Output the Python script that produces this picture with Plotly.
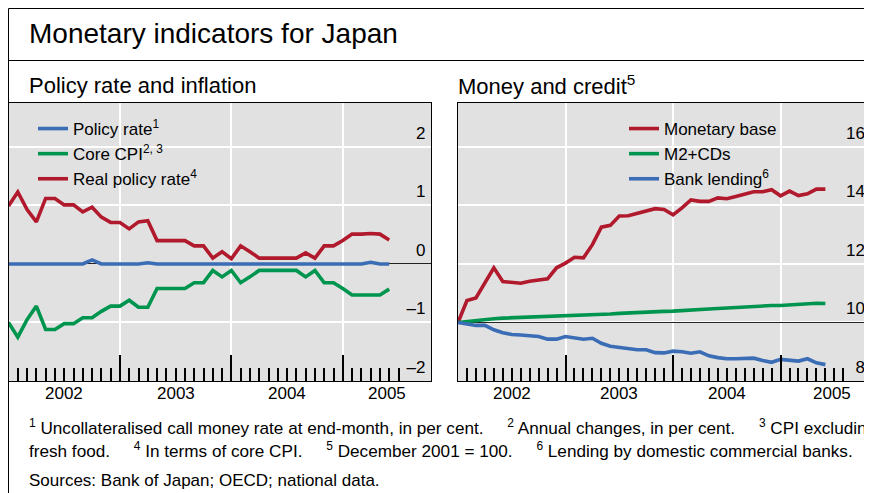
import plotly.graph_objects as go

# The page body has an 8 px margin, so the figure's top-left corner sits at page (8, 8).
# The reference chart is wider than the window and is cropped at the right edge.
OFF = 8
WF, HF = 900, 492

# ---------------- data (month index 0 = December 2001) ----------------
months = list(range(42))

policy_rate = [0.00, 0.00, 0.00, 0.01, 0.00, 0.00, 0.00, 0.00, 0.00, 0.07,
               0.00, 0.00, 0.00, 0.00, 0.00, 0.02, 0.00, 0.00, 0.00, 0.00,
               0.00, 0.00, 0.00, 0.01, 0.00, 0.00, 0.00, 0.00, 0.00, 0.00,
               0.00, 0.00, 0.00, 0.00, 0.00, 0.00, 0.00, 0.00, 0.00, 0.03,
               0.00, 0.00]
core_cpi = [-1.00, -1.25, -0.95, -0.72, -1.12, -1.12, -1.02, -1.02, -0.92, -0.92,
            -0.81, -0.72, -0.72, -0.62, -0.74, -0.74, -0.42, -0.42, -0.42, -0.42,
            -0.32, -0.32, -0.11, -0.22, -0.11, -0.32, -0.22, -0.11, -0.11, -0.11,
            -0.11, -0.11, -0.22, -0.11, -0.32, -0.32, -0.42, -0.53, -0.53, -0.53,
            -0.53, -0.43]
real_rate = [0.99, 1.23, 0.93, 0.72, 1.12, 1.12, 1.01, 1.01, 0.89, 0.97,
             0.80, 0.71, 0.71, 0.60, 0.72, 0.74, 0.40, 0.40, 0.40, 0.40,
             0.31, 0.31, 0.10, 0.21, 0.09, 0.31, 0.21, 0.10, 0.10, 0.10,
             0.10, 0.10, 0.19, 0.10, 0.31, 0.31, 0.40, 0.51, 0.51, 0.52,
             0.51, 0.41]

monetary_base = [100.0, 107.5, 108.4, 113.8, 118.7, 114.0, 113.8, 113.4, 114.1, 114.4,
                 114.9, 118.7, 120.3, 122.3, 122.1, 126.6, 132.6, 133.2, 136.4, 136.5,
                 137.4, 138.3, 138.9, 138.6, 136.8, 139.2, 141.9, 141.4, 141.4, 142.6,
                 142.3, 143.1, 143.9, 144.7, 144.7, 145.4, 143.3, 144.9, 143.4, 144.0,
                 145.6, 145.6]
m2_cds = [100.0, 100.4, 100.7, 101.0, 101.3, 101.5, 101.6, 101.8, 101.9, 102.0,
          102.2, 102.3, 102.2, 102.4, 102.5, 102.6, 102.6, 102.9, 103.1, 103.3,
          103.5, 103.5, 103.7, 103.8, 103.9, 104.0, 104.2, 104.4, 104.6, 104.8,
          105.0, 105.2, 105.4, 105.6, 105.7, 105.8, 105.8, 106.0, 106.2, 106.6,
          106.6, 106.5]
bank_lending = [100.0, 99.5, 99.0, 99.0, 97.5, 96.5, 95.9, 95.7, 95.4, 95.2,
                94.3, 94.3, 95.2, 94.9, 94.3, 94.6, 92.9, 91.9, 91.5, 91.2,
                90.7, 90.7, 89.7, 89.6, 90.2, 90.0, 89.5, 90.0, 88.6, 88.0,
                87.6, 87.6, 87.6, 87.8, 87.0, 86.4, 87.4, 87.1, 86.8, 87.6,
                86.2, 85.6]

year_labels = ["2002", "2003", "2004", "2005"]
year_bounds = [12, 24, 36]
left_year_pos = [6, 18, 30, 40.75]
right_year_pos = [6, 18, 30, 41.7]

left_ticks = [-2, -1, 0, 1, 2]
left_ticktext = ["\u20132", "\u20131", "0", "1", "2"]
right_ticks = [80, 100, 120, 140, 160]
right_ticktext = ["80", "100", "120", "140", "160"]
right_base = 100

title = "Monetary indicators for Japan"
sub_left = "Policy rate and inflation"
sub_right = "Money and credit<sup>5</sup>"
sp = "\u00a0" * 5
note1 = ("<sup>1</sup> Uncollateralised call money rate at end-month, in per cent." + sp +
         "<sup>2</sup> Annual changes, in per cent." + sp + "<sup>3</sup> CPI excluding")
note2 = ("fresh food." + sp + "<sup>4</sup> In terms of core CPI." + sp +
         "<sup>5</sup> December 2001 = 100." + sp + "<sup>6</sup> Lending by domestic commercial banks.")
note3 = "Sources: Bank of Japan; OECD; national data."

# ---------------- style ----------------
FONT = "Liberation Sans, Arial, Helvetica, sans-serif"
BLUE = "#3a6db5"
GREEN = "#00954f"
RED = "#b1192d"
BG = "#e1e1e1"
LW = 3.6
TW = 1.6


def px(page_x):
    return (page_x - OFF) / WF


def py(page_y):
    return 1 - (page_y - OFF) / HF


fig = go.Figure()

fig.add_trace(go.Scatter(x=months, y=policy_rate, name="Policy rate<sup>1</sup>", mode="lines",
                         line=dict(color=BLUE, width=LW), xaxis="x", yaxis="y", legend="legend"))
fig.add_trace(go.Scatter(x=months, y=core_cpi, name="Core CPI<sup>2, 3</sup>", mode="lines",
                         line=dict(color=GREEN, width=LW), xaxis="x", yaxis="y", legend="legend"))
fig.add_trace(go.Scatter(x=months, y=real_rate, name="Real policy rate<sup>4</sup>", mode="lines",
                         line=dict(color=RED, width=LW), xaxis="x", yaxis="y", legend="legend"))

fig.add_trace(go.Scatter(x=months, y=monetary_base, name="Monetary base", mode="lines",
                         line=dict(color=RED, width=LW), xaxis="x2", yaxis="y2", legend="legend2"))
fig.add_trace(go.Scatter(x=months, y=m2_cds, name="M2+CDs", mode="lines",
                         line=dict(color=GREEN, width=LW), xaxis="x2", yaxis="y2", legend="legend2"))
fig.add_trace(go.Scatter(x=months, y=bank_lending, name="Bank lending<sup>6</sup>", mode="lines",
                         line=dict(color=BLUE, width=LW), xaxis="x2", yaxis="y2", legend="legend2"))

# empty traces that register the overlay axes carrying the long year ticks
fig.add_trace(go.Scatter(x=[], y=[], xaxis="x3", yaxis="y", showlegend=False, hoverinfo="skip"))
fig.add_trace(go.Scatter(x=[], y=[], xaxis="x4", yaxis="y2", showlegend=False, hoverinfo="skip"))

ydom = [py(381), py(102.5)]

left_range = [0, 45.5]
right_px_per_month = 8.96
right_end_page = 883
right_range = [0, (right_end_page - 458) / right_px_per_month]


def month_axis(domain, rng, anchor):
    # monthly short ticks, frame lines
    return dict(domain=domain, range=rng, anchor=anchor, tickmode="linear", tick0=0, dtick=1,
                showticklabels=False, ticks="inside", ticklen=13, tickwidth=TW,
                tickcolor="black", showgrid=False, zeroline=False,
                showline=True, linecolor="black", linewidth=1, mirror=True, fixedrange=True)


def year_axis(over, rng, anchor):
    # long ticks and white gridlines at the year boundaries
    return dict(overlaying=over, range=rng, anchor=anchor, side="bottom", tickmode="array",
                tickvals=year_bounds, showticklabels=False, ticks="inside", ticklen=26,
                tickwidth=TW, tickcolor="black", showgrid=True, gridcolor="white",
                gridwidth=1.5, zeroline=False, showline=False, fixedrange=True)


fig.update_layout(
    width=WF, height=HF,
    margin=dict(l=0, r=0, t=0, b=0),
    paper_bgcolor="white", plot_bgcolor=BG,
    font=dict(family=FONT, size=17, color="black"),
    showlegend=True,
    xaxis=month_axis([px(8.5), px(431)], left_range, "y"),
    xaxis2=month_axis([px(458), px(right_end_page)], right_range, "y2"),
    xaxis3=year_axis("x", left_range, "y"),
    xaxis4=year_axis("x2", right_range, "y2"),
    yaxis=dict(domain=ydom, range=[-2, 2.76], anchor="x", side="right",
               tickmode="array", tickvals=left_ticks, ticktext=left_ticktext,
               ticks="", ticklabelposition="inside", ticklabelshift=-14, ticklabelstandoff=6,
               tickfont=dict(size=17, color="black", family=FONT),
               showgrid=True, gridcolor="white", gridwidth=1.5,
               zeroline=True, zerolinecolor="#222222", zerolinewidth=1,
               showline=True, linecolor="black", linewidth=1, mirror=True, fixedrange=True),
    yaxis2=dict(domain=ydom, range=[80, 175.2], anchor="x2", side="right",
                tickmode="array", tickvals=right_ticks, ticktext=right_ticktext,
                ticks="", ticklabelposition="inside", ticklabelshift=-14, ticklabelstandoff=9,
                tickfont=dict(size=17, color="black", family=FONT),
                showgrid=True, gridcolor="white", gridwidth=1.5, zeroline=False,
                showline=True, linecolor="black", linewidth=1, mirror=True, fixedrange=True),
    legend=dict(x=px(33), y=py(111), xanchor="left", yanchor="top",
                bgcolor="rgba(0,0,0,0)", borderwidth=0,
                font=dict(size=17, family=FONT, color="black"), tracegroupgap=0),
    legend2=dict(x=px(624), y=py(111), xanchor="left", yanchor="top",
                 bgcolor="rgba(0,0,0,0)", borderwidth=0,
                 font=dict(size=17, family=FONT, color="black"), tracegroupgap=0),
)

shapes = [
    # outer frame (its right and bottom sides lie outside the window)
    dict(type="rect", xref="paper", yref="paper", x0=px(8.5), x1=1.5, y0=-0.5, y1=py(8.5),
         line=dict(color="black", width=1), fillcolor="rgba(0,0,0,0)", layer="above"),
    dict(type="line", xref="paper", yref="paper", x0=px(8.5), x1=1.5, y0=py(60.5), y1=py(60.5),
         line=dict(color="black", width=1), layer="above"),
    # baseline at 100 in the right panel, between gridlines and traces
    dict(type="line", xref="x2", yref="y2", x0=right_range[0], x1=right_range[1],
         y0=right_base, y1=right_base, line=dict(color="#222222", width=1), layer="between"),
]

annotations = [
    dict(text=title, x=px(27), y=py(33.5), xref="paper", yref="paper", xanchor="left",
         yanchor="middle", showarrow=False, font=dict(size=28, family=FONT, color="black")),
    dict(text=sub_left, x=px(27), y=py(85.5), xref="paper", yref="paper", xanchor="left",
         yanchor="middle", showarrow=False, font=dict(size=22, family=FONT, color="black")),
    dict(text=sub_right, x=px(455.5), y=py(85.5), xref="paper", yref="paper", xanchor="left",
         yanchor="middle", showarrow=False, font=dict(size=22, family=FONT, color="black")),
    dict(text=note1, x=px(27), y=py(427), xref="paper", yref="paper", xanchor="left",
         yanchor="middle", showarrow=False, font=dict(size=17.15, family=FONT, color="black")),
    dict(text=note2, x=px(27), y=py(450), xref="paper", yref="paper", xanchor="left",
         yanchor="middle", showarrow=False, font=dict(size=17.15, family=FONT, color="black")),
    dict(text=note3, x=px(27), y=py(480), xref="paper", yref="paper", xanchor="left",
         yanchor="middle", showarrow=False, font=dict(size=17, family=FONT, color="black")),
]

for lab, xl, xr in zip(year_labels, left_year_pos, right_year_pos):
    annotations.append(dict(text=lab, x=xl, xref="x", y=py(393), yref="paper",
                            xanchor="center", yanchor="middle", showarrow=False,
                            font=dict(size=17, family=FONT, color="black")))
    annotations.append(dict(text=lab, x=xr, xref="x2", y=py(393), yref="paper",
                            xanchor="center", yanchor="middle", showarrow=False,
                            font=dict(size=17, family=FONT, color="black")))

fig.update_layout(shapes=shapes, annotations=annotations)

fig.write_html("out.html", config=dict(displayModeBar=False))
